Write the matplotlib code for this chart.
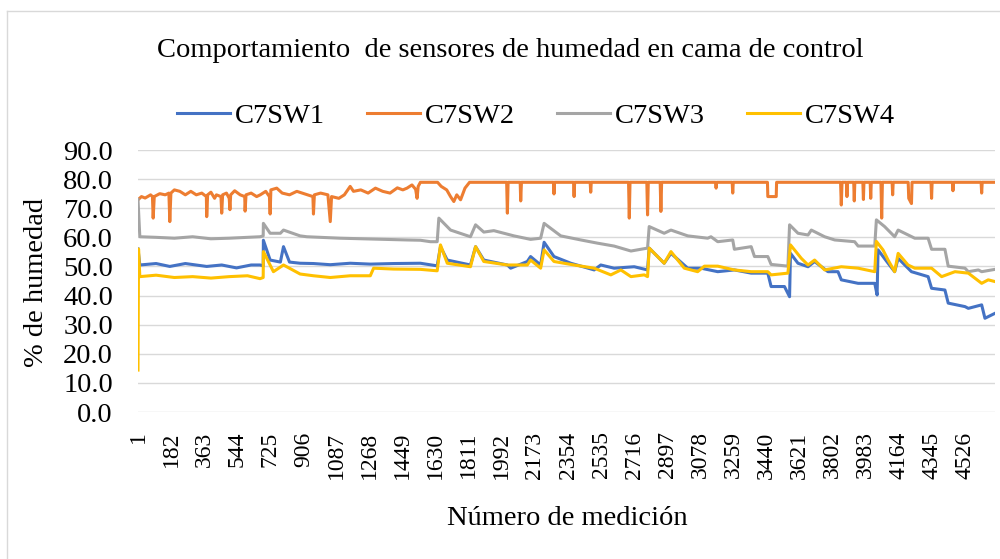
import matplotlib
matplotlib.use("Agg")
import matplotlib.pyplot as plt
from matplotlib.lines import Line2D

plt.rcParams['font.family'] = ['Liberation Serif', 'DejaVu Serif']

C7SW1 = [(1, 56.0), (11, 50.5), (100, 51.0), (175, 50.0), (260, 51.0), (377, 50.0), (459, 50.5),
         (540, 49.5), (620, 50.5), (669, 50.5), (686, 50.2), (687, 59.0), (724, 52.2), (780, 51.5),
         (797, 56.8), (830, 51.5), (888, 51.1), (961, 51.0), (1053, 50.6), (1162, 51.1), (1272, 50.8),
         (1400, 51.0), (1546, 51.1), (1638, 50.2), (1656, 56.8), (1693, 52.2), (1820, 50.5), (1848, 56.8),
         (1893, 52.2), (2022, 50.5), (2040, 49.4), (2131, 51.7), (2149, 53.4), (2204, 50.5), (2223, 58.3),
         (2277, 53.4), (2369, 51.1), (2497, 48.8), (2533, 50.5), (2606, 49.4), (2716, 49.9), (2789, 48.8),
         (2798, 56.3), (2880, 51.1), (2917, 54.5), (3009, 49.4), (3081, 49.4), (3173, 48.2), (3264, 48.8),
         (3356, 47.7), (3447, 47.7), (3465, 43.1), (3538, 43.1), (3566, 39.6), (3571, 54.5), (3612, 51.1),
         (3667, 49.9), (3703, 51.7), (3776, 48.2), (3831, 48.2), (3849, 45.4), (3941, 44.2), (4032, 44.2),
         (4045, 40.2), (4050, 55.7), (4105, 51.1), (4141, 48.2), (4160, 52.8), (4233, 48.2), (4324, 46.5),
         (4343, 42.5), (4416, 41.9), (4434, 37.4), (4526, 36.2), (4544, 35.6), (4617, 36.8), (4635, 32.2),
         (4690, 33.9)]

C7SW2 = [(1, 72.9), (20, 74.0), (40, 73.5), (70, 74.6), (80, 74.0), (84, 66.6), (90, 74.0), (120, 75.0),
         (150, 74.6), (170, 75.2), (175, 65.4), (181, 75.2), (200, 76.3), (230, 75.8), (260, 74.6),
         (290, 75.8), (320, 74.6), (350, 75.2), (375, 74.0), (377, 67.1), (382, 74.6), (400, 75.5),
         (420, 73.4), (430, 74.6), (455, 74.0), (459, 68.3), (464, 74.6), (485, 75.2), (500, 73.4),
         (504, 69.5), (508, 74.6), (530, 76.0), (560, 74.6), (585, 74.0), (587, 69.0), (592, 74.6),
         (620, 75.2), (650, 74.0), (670, 74.6), (700, 75.8), (720, 74.0), (724, 68.0), (728, 76.3),
         (760, 76.9), (790, 75.2), (830, 74.6), (870, 75.8), (900, 75.2), (930, 74.6), (958, 74.0),
         (961, 68.0), (966, 74.6), (1000, 75.2), (1040, 74.6), (1053, 65.4), (1060, 74.0), (1100, 73.4),
         (1130, 74.6), (1162, 77.5), (1180, 75.8), (1220, 76.3), (1260, 75.2), (1300, 76.9), (1340, 75.8),
         (1380, 75.2), (1420, 77.0), (1450, 76.3), (1473, 76.9), (1500, 78.0), (1520, 76.5), (1528, 73.4),
         (1534, 77.5), (1546, 78.9), (1640, 78.9), (1660, 77.5), (1690, 76.3), (1711, 74.0), (1729, 72.3),
         (1745, 74.6), (1766, 72.9), (1790, 76.9), (1815, 78.9), (2018, 78.9), (2022, 68.3), (2026, 78.9),
         (2092, 78.9), (2095, 72.5), (2099, 78.9), (2274, 78.9), (2277, 74.9), (2280, 78.9), (2384, 78.9),
         (2387, 74.0), (2390, 78.9), (2475, 78.9), (2478, 75.5), (2481, 78.9), (2685, 78.9), (2689, 66.6),
         (2693, 78.9), (2785, 78.9), (2789, 67.7), (2793, 78.9), (2858, 78.9), (2862, 68.9), (2866, 78.9),
         (3161, 78.9), (3164, 76.9), (3167, 78.9), (3252, 78.9), (3255, 75.2), (3258, 78.9), (3445, 78.9),
         (3447, 74.0), (3493, 74.0), (3495, 78.9), (3845, 78.9), (3849, 71.1), (3853, 78.9), (3877, 78.9),
         (3880, 74.0), (3883, 78.9), (3917, 78.9), (3920, 72.5), (3923, 78.9), (3967, 78.9), (3970, 73.0),
         (3973, 78.9), (4007, 78.9), (4010, 73.4), (4013, 78.9), (4066, 78.9), (4070, 66.6), (4074, 78.9),
         (4127, 78.9), (4130, 74.6), (4133, 78.9), (4215, 78.9), (4218, 73.4), (4233, 71.6), (4236, 78.9),
         (4340, 78.9), (4343, 73.4), (4346, 78.9), (4457, 78.9), (4460, 76.0), (4463, 78.9), (4614, 78.9),
         (4617, 75.2), (4620, 78.9), (4690, 78.9)]

C7SW3 = [(1, 73.0), (11, 60.2), (100, 60.0), (200, 59.7), (300, 60.2), (400, 59.5), (500, 59.7),
         (600, 60.0), (669, 60.2), (686, 60.5), (687, 64.8), (724, 61.4), (780, 61.4), (797, 62.5),
         (888, 60.5), (925, 60.2), (1108, 59.7), (1290, 59.4), (1473, 59.1), (1546, 59.0), (1601, 58.5),
         (1638, 58.5), (1647, 66.6), (1711, 62.5), (1820, 60.2), (1848, 64.3), (1893, 61.8), (1948, 62.3),
         (2058, 60.5), (2149, 59.3), (2204, 59.7), (2223, 64.8), (2314, 60.5), (2424, 59.1), (2515, 58.0),
         (2606, 57.0), (2698, 55.3), (2789, 56.3), (2798, 63.7), (2880, 61.4), (2917, 62.5), (3009, 60.5),
         (3118, 59.7), (3136, 60.2), (3173, 58.5), (3255, 59.1), (3264, 55.9), (3356, 56.8), (3374, 53.4),
         (3447, 53.4), (3465, 50.7), (3557, 50.1), (3566, 64.3), (3612, 61.4), (3667, 60.8), (3685, 62.5),
         (3758, 60.2), (3813, 59.1), (3922, 58.5), (3941, 57.0), (4032, 57.0), (4041, 66.0), (4086, 63.7),
         (4141, 60.2), (4160, 62.5), (4251, 59.7), (4324, 59.7), (4343, 55.9), (4416, 55.9), (4434, 50.1),
         (4526, 49.4), (4544, 48.2), (4599, 48.8), (4617, 48.2), (4690, 49.0)]

C7SW4 = [(1, 14.4), (4, 56.0), (11, 46.5), (100, 47.0), (200, 46.2), (300, 46.5), (400, 46.0),
         (500, 46.5), (600, 46.8), (669, 45.8), (686, 46.2), (687, 55.1), (742, 48.2), (797, 50.5),
         (888, 47.4), (961, 46.8), (1053, 46.2), (1162, 46.8), (1272, 46.8), (1290, 49.4), (1400, 49.1),
         (1546, 49.0), (1638, 48.5), (1656, 57.4), (1693, 51.1), (1820, 49.9), (1848, 56.8), (1893, 51.7),
         (2022, 50.5), (2131, 50.5), (2149, 52.2), (2204, 49.4), (2223, 55.7), (2277, 51.7), (2387, 50.5),
         (2497, 49.4), (2588, 47.1), (2643, 48.8), (2698, 46.5), (2771, 47.1), (2789, 46.5), (2798, 56.3),
         (2880, 51.1), (2917, 55.1), (2990, 49.4), (3063, 48.2), (3100, 50.1), (3173, 50.1), (3264, 48.8),
         (3356, 48.2), (3447, 48.2), (3465, 47.1), (3557, 47.7), (3571, 57.4), (3630, 52.8), (3667, 50.5),
         (3703, 52.2), (3758, 48.8), (3849, 49.9), (3941, 49.4), (4032, 48.2), (4041, 58.6), (4077, 55.7),
         (4105, 52.2), (4141, 48.2), (4160, 54.5), (4214, 50.5), (4251, 49.4), (4343, 49.4), (4398, 46.5),
         (4471, 48.2), (4544, 47.7), (4617, 44.2), (4653, 45.4), (4690, 44.8)]

series_names = ["C7SW1", "C7SW2", "C7SW3", "C7SW4"]
series_data = [C7SW1, C7SW2, C7SW3, C7SW4]
colors = ["#4472C4", "#ED7D31", "#A5A5A5", "#FFC000"]

x_ticks = list(range(1, 4527, 181))
y_ticks = [0, 10, 20, 30, 40, 50, 60, 70, 80, 90]

W, H = 1000, 559
fig = plt.figure(figsize=(10, 5.59), dpi=100)
ax = fig.add_axes([138 / W, 1 - 412 / H, (995 - 138) / W, (412 - 150) / H])

# chart border (only left and top fall inside the picture)
fig.add_artist(Line2D([7 / W, 7 / W], [0, 1 - 11 / H], color="#d9d9d9", lw=1))
fig.add_artist(Line2D([7 / W, 1], [1 - 11 / H, 1 - 11 / H], color="#d9d9d9", lw=1))

handles = []
for name, data, c in zip(series_names, series_data, colors):
    xs = [p[0] for p in data]
    ys = [p[1] for p in data]
    ln, = ax.plot(xs, ys, color=c, lw=2.2, label=name, solid_joinstyle="round")
    handles.append(ln)

ax.set_xlim(1, 4690)
ax.set_ylim(0, 90)
ax.set_yticks(y_ticks)
ax.set_yticklabels([f"{v:.1f}" for v in y_ticks], fontsize=20.5)
ax.set_xticks(x_ticks)
ax.set_xticklabels([str(v) for v in x_ticks], rotation=90, fontsize=17)
ax.tick_params(axis="y", length=0, pad=18)
ax.tick_params(axis="x", length=0, pad=14)
ax.grid(axis="y", color="#d9d9d9", lw=1)
ax.set_axisbelow(True)
for s in ax.spines.values():
    s.set_visible(False)

fig.text(510 / W, 1 - 57 / H, "Comportamiento  de sensores de humedad en cama de control",
         fontsize=20.5, ha="center", va="baseline")
fig.text(567 / W, 1 - 525 / H, "Número de medición", fontsize=20.5, ha="center", va="baseline")
fig.text(37 / W, 1 - 282 / H, "% de humedad", fontsize=20.5, ha="center", va="center", rotation=90)

fig.legend(handles=handles, loc="center", bbox_to_anchor=(536 / W, 1 - 116 / H), ncol=4,
           frameon=False, fontsize=20.5, handlelength=1.86, handletextpad=0.2,
           columnspacing=1.45, borderpad=0, borderaxespad=0)

fig.savefig("out.png", dpi=100)
